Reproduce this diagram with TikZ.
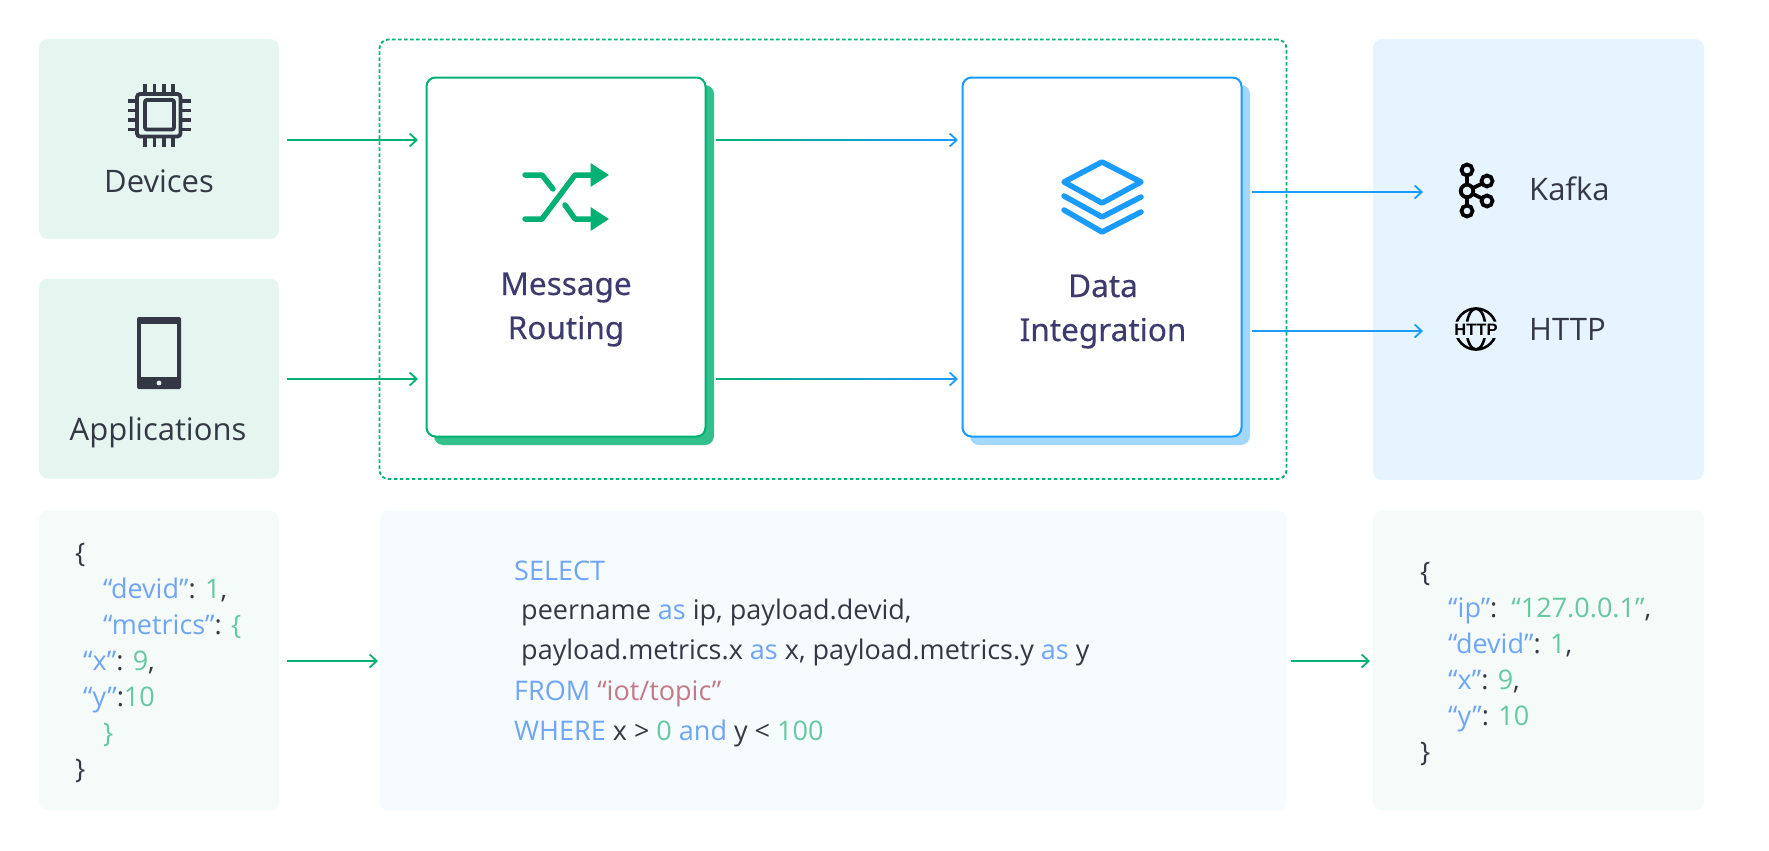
\documentclass[tikz,border=0pt]{standalone}
\usepackage{fontspec}
\usepackage{xcolor}
\usepackage{tikz}
\usetikzlibrary{arrows.meta}
\usetikzlibrary{calc}
\setmainfont{Open Sans}
\newfontfamily\titlefont[FakeBold=0.25]{Noto Sans}
\newfontfamily\iconfont{Liberation Sans}
\definecolor{C0}{HTML}{00B173}
\definecolor{C1}{HTML}{1A9BFF}
\definecolor{C2}{HTML}{33C08D}
\definecolor{C3}{HTML}{A3D7FF}
\definecolor{C4}{HTML}{E5F6F0}
\definecolor{C5}{HTML}{E6F4FF}
\definecolor{C6}{HTML}{F5FBF9}
\definecolor{C7}{HTML}{F5FBFF}
\definecolor{ink}{HTML}{333844}
\definecolor{title}{HTML}{3D3A6E}
\definecolor{key}{HTML}{6FA5F7}
\definecolor{val}{HTML}{66C8A0}
\definecolor{str}{HTML}{C27A85}
\tikzstyle{panel} = [inner sep=0pt, outer sep=0pt, rounded corners=9pt, anchor=north west]
\tikzstyle{card} = [draw, fill=white, line width=2pt, rounded corners=9pt, inner sep=0pt, outer sep=0pt, minimum width=279pt, minimum height=359pt, anchor=north west]
\tikzstyle{link} = [line width=2pt, -{Straight Barb[length=7pt,width=13pt,line width=1.8pt]}]
\tikzstyle{label} = [inner sep=0pt, anchor=base, text=ink, font=\fontsize{31}{36}\selectfont]
\tikzstyle{heading} = [inner sep=0pt, anchor=base, text=title, font=\titlefont\fontsize{31.5}{36}\selectfont]
\tikzstyle{code} = [inner sep=0pt, anchor=base west, text=ink, font=\fontsize{27}{36}\selectfont]
\tikzstyle{hub} = [draw=black, fill=C5, circle, line width=3.8pt, inner sep=0pt, outer sep=0pt, minimum size=11pt]
\newcommand{\K}[1]{\textcolor{key}{#1}}
\newcommand{\V}[1]{\textcolor{val}{#1}}
\begin{document}
\begin{tikzpicture}[x=1pt, y=-1pt]
	\useasboundingbox (0, 0) rectangle (1769, 851) ;
	
	% panels
	\node[panel, fill=C4, minimum width=240pt, minimum height=200pt] (devices) at (39, 39) {} ;
	\node[panel, fill=C4, minimum width=240pt, minimum height=200pt] (apps) at (39, 278.5) {} ;
	\node[panel, fill=C5, minimum width=331pt, minimum height=441pt] (sinks) at (1373, 39) {} ;
	\node[panel, fill=C6, minimum width=240pt, minimum height=300pt] (input) at (39, 510.5) {} ;
	\node[panel, fill=C7, minimum width=907pt, minimum height=300pt] (sql) at (379.5, 510.5) {} ;
	\node[panel, fill=C6, minimum width=331pt, minimum height=300pt] (output) at (1373, 510.5) {} ;
	\node[panel, draw=C0, line width=1.8pt, dash pattern=on 3.5pt off 2.5pt, minimum width=907pt, minimum height=439.5pt] (engine) at (379.5, 39.5) {} ;
	
	% cards with their offset shadows
	\node[panel, fill=C2, minimum width=280pt, minimum height=360pt] (routingback) at (434, 85) {} ;
	\node[card, draw=C0] (routing) at (426.5, 77.5) {} ;
	\node[panel, fill=C3, minimum width=280pt, minimum height=360pt] (databack) at (970, 85) {} ;
	\node[card, draw=C1] (data) at (962.5, 77.5) {} ;
	
	\coordinate (top) at (0, 140) ;
	\coordinate (bottom) at (0, 379) ;
	\coordinate (kafkain) at (1423, 192) ;
	\coordinate (httpin) at (1423, 331) ;
	\coordinate (inputout) at (287, 661) ;
	\coordinate (sqlin) at (378, 661) ;
	\coordinate (sqlout) at (1291, 661) ;
	\coordinate (outputin) at (1370, 661) ;
	
	\draw[link, C0, shorten <=8pt, shorten >=8.5pt] (top -| devices.east) -- (top -| routing.west) ;
	\draw[link, C0, shorten <=8pt, shorten >=8.5pt] (bottom -| apps.east) -- (bottom -| routing.west) ;
	\foreach \cooname in {top, bottom}
	{
		\draw[link, C1, shorten <=10.5pt, shorten >=4.5pt] (\cooname -| routing.east) -- (\cooname -| data.west) ;
		\shade[left color=C0, right color=C1] ($(\cooname -| routing.east)+(10.5, -0.9)$) rectangle ($(\cooname -| data.west)+(-14, 0.9)$) ;
	}
	\draw[link, C1, shorten <=10.5pt] (kafkain -| data.east) -- (kafkain) ;
	\draw[link, C1, shorten <=10.5pt] (httpin -| data.east) -- (httpin) ;
	\draw[link, C0] (inputout) -- (sqlin) ;
	\draw[link, C0] (sqlout) -- (outputin) ;
	
	% chip
	\begin{scope}[ink, line width=3.8pt]
		\draw[rounded corners=3pt] (137, 94) rectangle (180.5, 136.5) ;
		\draw[rounded corners=2pt] (145, 100) rectangle (174, 129.5) ;
		\foreach \n in {145, 154.5, 164, 173}
		{
			\draw (\n, 83.5) -- (\n, 93) (\n, 137) -- (\n, 147) ;
		}
		\foreach \n in {101, 110.5, 120, 129.5}
		{
			\draw (127.5, \n) -- (137, \n) (181, \n) -- (190.5, \n) ;
		}
	\end{scope}
	
	% tablet
	\fill[ink, rounded corners=2pt] (137, 317) rectangle (181, 389) ;
	\fill[C4] (141, 324) rectangle (177, 376.5) ;
	\fill[C4] (159, 383) circle (2.4) ;
	
	% shuffle
	\begin{scope}[C0, line width=5.5pt, line cap=round, line join=round]
		\draw (525, 175) -- (542, 175) -- (553, 189) ;
		\draw (525, 219) -- (542, 219) -- (575, 175) -- (592, 175) ;
		\draw (565, 205) -- (575, 219) -- (592, 219) ;
		\fill (590.5, 163) -- (609, 175) -- (590.5, 187) -- cycle ;
		\fill (590.5, 207) -- (609, 219) -- (590.5, 231) -- cycle ;
	\end{scope}
	
	% layers
	\begin{scope}[C1, line width=5.5pt, line cap=round, line join=round]
		\draw (1102, 162) -- (1064, 182) -- (1102, 203) -- (1141, 182) -- cycle ;
		\draw (1064, 196) -- (1102, 217) -- (1141, 197) ;
		\draw (1064, 210) -- (1102, 232) -- (1141, 212) ;
	\end{scope}
	
	% kafka
	\node[hub] (K1) at (1467, 170) {} ;
	\node[hub, minimum size=12.5pt] (K2) at (1467, 191) {} ;
	\node[hub] (K3) at (1487, 181) {} ;
	\node[hub] (K4) at (1487, 201) {} ;
	\node[hub] (K5) at (1467, 211) {} ;
	\foreach \n in {1, 3, 4, 5}
	{
		\draw[black, line width=3.8pt] (K2) -- (K\n) ;
	}
	
	% http
	\begin{scope}
		\clip (1450, 305) rectangle (1502, 321.5) (1450, 338) rectangle (1502, 353) ;
		\draw[black, line width=2.6pt] (1476, 329) circle (20.5) ;
		\draw[black, line width=2.6pt] (1476, 329) ellipse (9.5 and 20.5) ;
	\end{scope}
	\node[inner sep=0pt, text=black, font=\iconfont\fontsize{16.5}{18}\selectfont\bfseries] (httpicon) at (1476, 329.5) {HTTP} ;
	
	% labels
	\node[label] (devicestext) at (159, 192) {Devices} ;
	\node[label] (appstext) at (158, 440) {Applications} ;
	\node[heading] (routing1) at (566, 295) {Message} ;
	\node[heading] (routing2) at (566, 339) {Routing} ;
	\node[heading] (data1) at (1103, 297) {Data} ;
	\node[heading] (data2) at (1103, 341) {Integration} ;
	\node[label, anchor=base west] (kafka) at (1529, 200) {Kafka} ;
	\node[label, anchor=base west] (http) at (1529, 340) {HTTP} ;
	
	% code on the left
	\node[code] (L1) at (75, 562) {\{} ;
	\node[code] (L2) at (103, 598) {\K{“devid”}: \V{1},} ;
	\node[code] (L3) at (103, 634) {\K{“metrics”}: \V{\{}} ;
	\node[code] (L4) at (83, 670) {\K{“x”}: \V{9},} ;
	\node[code] (L5) at (83, 706) {\K{“y”}:\V{10}} ;
	\node[code] (L6) at (103, 742) {\V{\}}} ;
	\node[code] (L7) at (75, 778) {\}} ;
	
	% query
	\node[code] (Q1) at (514, 580) {\K{SELECT}} ;
	\node[code] (Q2) at (521, 619) {peername \K{as} ip, payload.devid,} ;
	\node[code] (Q3) at (521, 659) {payload.metrics.x \K{as} x, payload.metrics.y \K{as} y} ;
	\node[code] (Q4) at (514, 700) {\K{FROM} \textcolor{str}{“iot/topic”}} ;
	\node[code] (Q5) at (514, 740) {\K{WHERE} x > \V{0} \K{and} y < \V{100}} ;
	
	% code on the right
	\node[code] (R1) at (1420, 581) {\{} ;
	\node[code] (R2) at (1448, 617) {\K{“ip”}:\ \ \V{“127.0.0.1”},} ;
	\node[code] (R3) at (1448, 653) {\K{“devid”}: \V{1},} ;
	\node[code] (R4) at (1448, 689) {\K{“x”}: \V{9},} ;
	\node[code] (R5) at (1448, 725) {\K{“y”}: \V{10}} ;
	\node[code] (R6) at (1420, 761) {\}} ;
\end{tikzpicture}
\end{document}
